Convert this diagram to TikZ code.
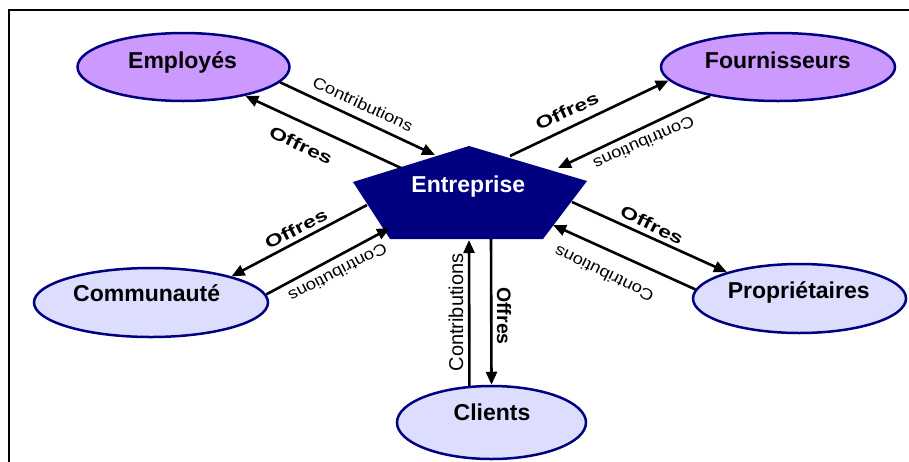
\documentclass[tikz,border=0pt]{standalone}
\usepackage{fontspec}
\usepackage{graphicx}
\setmainfont{Liberation Sans}
\usetikzlibrary{arrows.meta,shapes.geometric}
\definecolor{navy}{HTML}{000080}
\definecolor{violetA}{HTML}{CC99FF}
\definecolor{lavB}{HTML}{DDDDFF}
\newcommand\wideC{\scalebox{1.15}[1]{Contributions}}
\newcommand\wideO{\scalebox{1.35}[1]{Offres}}
\begin{document}
\begin{tikzpicture}[x=1pt,y=-1pt,
  ellA/.style={ellipse, draw=navy, line width=2.5pt, fill=violetA, inner sep=0pt},
  ellB/.style={ellipse, draw=navy, line width=2.5pt, fill=lavB, inner sep=0pt},
  nametext/.style={font=\fontsize{23}{27}\selectfont\bfseries, anchor=base, inner sep=0pt},
  arrowline/.style={-{Triangle[length=13pt,width=11pt]}, line width=2.6pt, black},
  lblC/.style={font=\fontsize{16}{19}\selectfont, inner sep=0pt},
  lblO/.style={font=\fontsize{17}{20}\selectfont\bfseries, inner sep=0pt},
  vlblC/.style={font=\fontsize{20}{24}\selectfont, inner sep=0pt},
  vlblO/.style={font=\fontsize{19.5}{23}\selectfont\bfseries, inner sep=0pt},
  frameline/.style={line width=2.2pt, black}]
\useasboundingbox (0,0) rectangle (909,461);
\fill[white] (0,0) rectangle (909,461);
\draw[frameline] (9,465) -- (9,10.3) -- (912,10.3);

% ellipses
\node[ellA, minimum width=212pt, minimum height=68pt] (emp) at (183.5,67) {};
\node[ellA, minimum width=234pt, minimum height=68pt] (four) at (778,67) {};
\node[ellB, minimum width=234pt, minimum height=69pt] (comm) at (151,302.5) {};
\node[ellB, minimum width=213pt, minimum height=69pt] (prop) at (799.5,298.5) {};
\node[ellB, minimum width=189pt, minimum height=73pt] (cli) at (491.5,422.5) {};

\node[nametext] (empt) at (182.5,68.3) {Employés};
\node[nametext] (fourt) at (777.8,68.3) {Fournisseurs};
\node[nametext] (commt) at (146.7,301.7) {Communauté};
\node[nametext] (propt) at (798.7,298.3) {Propriétaires};
\node[nametext] (clit) at (492,420) {Clients};

% pentagon
\coordinate (ptop) at (469,146);
\coordinate (pleft) at (353,182);
\coordinate (pright) at (587,181);
\coordinate (pbl) at (390,239);
\coordinate (pbr) at (543,239);
\fill[navy] (ptop) -- (pright) -- (pbr) -- (pbl) -- (pleft) -- cycle;
\node[nametext, text=white] (ent) at (468.3,192.7) {Entreprise};

% arrow ends on the pentagon
\coordinate (pE1) at (435,155);
\coordinate (pE2) at (401,168);
\coordinate (pF1) at (510,156);
\coordinate (pF2) at (558,168);
\coordinate (pC1) at (367,205);
\coordinate (pC2) at (390,228);
\coordinate (pP1) at (572,202);
\coordinate (pP2) at (553,225);
\coordinate (pK1) at (469,240);
\coordinate (pK2) at (491,239);

% arrows
\draw[arrowline] (emp.-9.2) -- (pE1);
\draw[arrowline] (pE2) -- (emp.-25);
\draw[arrowline] (pF1) -- (four.187.8);
\draw[arrowline] (four.203.2) -- (pF2);
\draw[arrowline] (pC1) -- (comm.18.1);
\draw[arrowline] (comm.4.6) -- (pC2);
\draw[arrowline] (pP1) -- (prop.160.4);
\draw[arrowline] (prop.175.4) -- (pP2);
\draw[arrowline] (cli.121.6) -- (pK1);
\draw[arrowline] (pK2) -- (cli.90.8);

% labels
\node[lblC, rotate=-25] (l1) at (363,104) {\wideC};
\node[lblO, rotate=-25] (l2) at (301,145) {\wideO};
\node[lblO, rotate=24.5] (l3) at (567,111) {\wideO};
\node[lblC, rotate=204] (l4) at (644,143) {\wideC};
\node[lblO, rotate=27] (l5) at (296,229) {\wideO};
\node[lblC, rotate=207.5] (l6) at (338,273) {\wideC};
\node[lblO, rotate=-26] (l7) at (652,225) {\wideO};
\node[lblC, rotate=154] (l8) at (604,274) {\wideC};
\node[vlblC, rotate=90] (l9) at (456,312.5) {Contributions};
\node[vlblO, rotate=-90] (l10) at (504,316) {Offres};
\end{tikzpicture}
\end{document}
